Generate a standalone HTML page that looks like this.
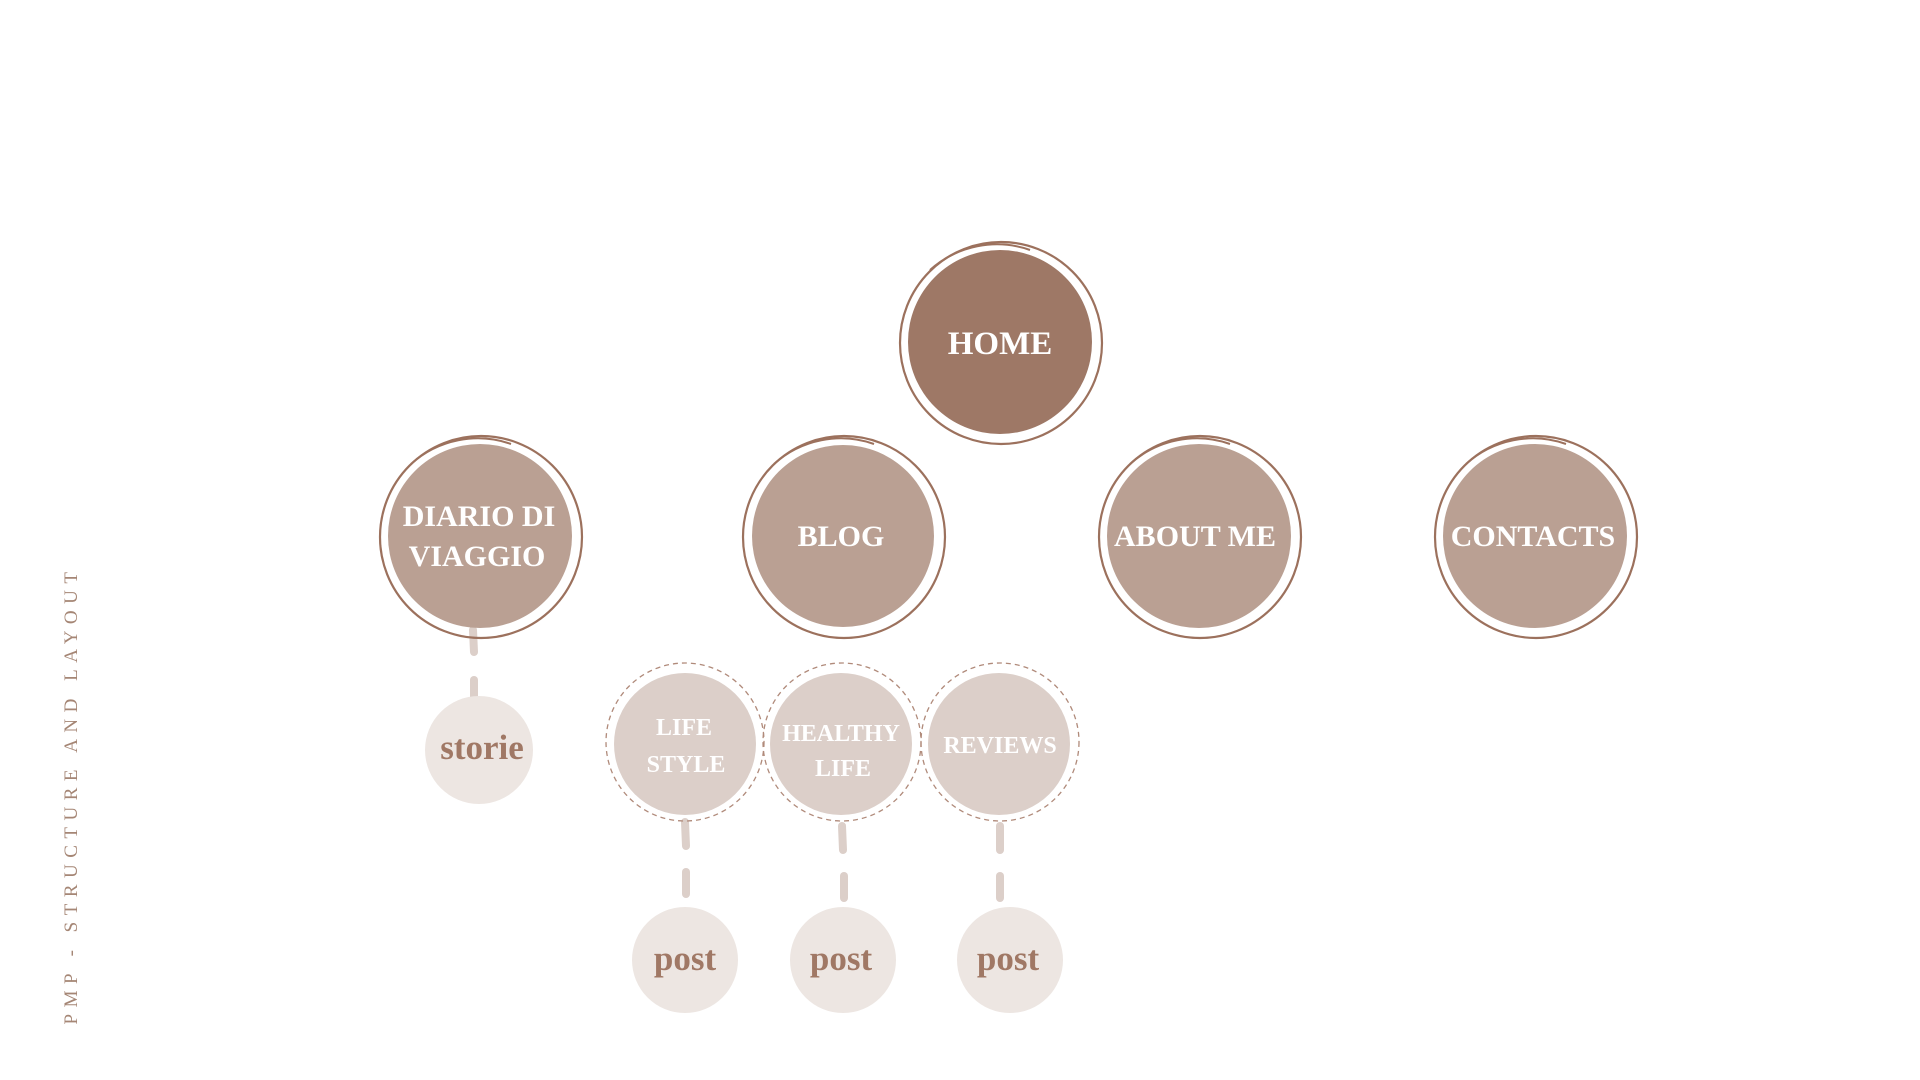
<!DOCTYPE html>
<html><head><meta charset="utf-8"><style>
html,body{margin:0;padding:0;background:#fff;width:1920px;height:1080px;overflow:hidden}
svg{display:block}
text{font-family:"Liberation Serif",serif;font-weight:bold;text-anchor:middle}
</style></head><body>
<svg width="1920" height="1080" viewBox="0 0 1920 1080">
<g stroke="#dccfc9" stroke-width="8" stroke-linecap="round">
<line x1="473" y1="630" x2="474" y2="652"/><line x1="474" y1="680" x2="474" y2="700"/>
<line x1="685" y1="822" x2="686" y2="846"/><line x1="686" y1="872" x2="686" y2="894"/>
<line x1="842" y1="826" x2="843" y2="850"/><line x1="844" y1="876" x2="844" y2="898"/>
<line x1="1000" y1="826" x2="1000" y2="850"/><line x1="1000" y1="876" x2="1000" y2="898"/>
</g>
<g>
<circle cx="1000" cy="342" r="92" fill="#9e7866"/>
<circle cx="1001" cy="343" r="101" fill="none" stroke="#9c715d" stroke-width="2.2"/>
<path d="M930 270 A100 100 0 0 1 1030 250" fill="none" stroke="#9c715d" stroke-width="2"/>
<text x="1000" y="354" font-size="33" fill="#fff">HOME</text>
</g>
<g fill="#baa093" stroke="none">
<circle cx="480" cy="536" r="92"/><circle cx="843" cy="536" r="91"/>
<circle cx="1199" cy="536" r="92"/><circle cx="1535" cy="536" r="92"/>
</g>
<g fill="none" stroke="#9c715d" stroke-width="2.2">
<circle cx="481" cy="537" r="101"/><circle cx="844" cy="537" r="101"/>
<circle cx="1200" cy="537" r="101"/><circle cx="1536" cy="537" r="101"/>
</g>
<g fill="none" stroke="#9c715d" stroke-width="2">
<path d="M411 464 A100 100 0 0 1 511 444"/><path d="M774 464 A100 100 0 0 1 874 444"/>
<path d="M1130 464 A100 100 0 0 1 1230 444"/><path d="M1466 464 A100 100 0 0 1 1566 444"/>
</g>
<g fill="#fff" font-size="30">
<text x="479" y="526">DIARIO DI</text><text x="477" y="566">VIAGGIO</text>
<text x="841" y="546">BLOG</text>
<text x="1195" y="546">ABOUT ME</text>
<text x="1533" y="546">CONTACTS</text>
</g>
<g fill="#dccfc9"><circle cx="685" cy="744" r="71"/><circle cx="841" cy="744" r="71"/><circle cx="999" cy="744" r="71"/></g>
<g fill="none" stroke="#b08a7a" stroke-width="1.3" stroke-dasharray="5 4">
<circle cx="685" cy="742" r="79"/><circle cx="842" cy="742" r="79"/><circle cx="1000" cy="742" r="79"/>
</g>
<g fill="#fff" font-size="24">
<text x="684" y="735">LIFE</text><text x="686" y="772">STYLE</text>
<text x="841" y="741">HEALTHY</text><text x="843" y="776">LIFE</text>
<text x="1000" y="753">REVIEWS</text>
</g>
<g fill="#ede6e2">
<circle cx="479" cy="750" r="54"/>
<circle cx="685" cy="960" r="53"/><circle cx="843" cy="960" r="53"/><circle cx="1010" cy="960" r="53"/>
</g>
<g fill="#a07865" font-size="35">
<text x="482" y="759">storie</text>
<text x="685" y="970">post</text><text x="841" y="970">post</text><text x="1008" y="970">post</text>
</g>
<text transform="translate(77,795) rotate(-90)" font-size="19" fill="#a58675" letter-spacing="6.5" style="font-weight:normal">PMP - STRUCTURE AND LAYOUT</text>
</svg>
</body></html>
